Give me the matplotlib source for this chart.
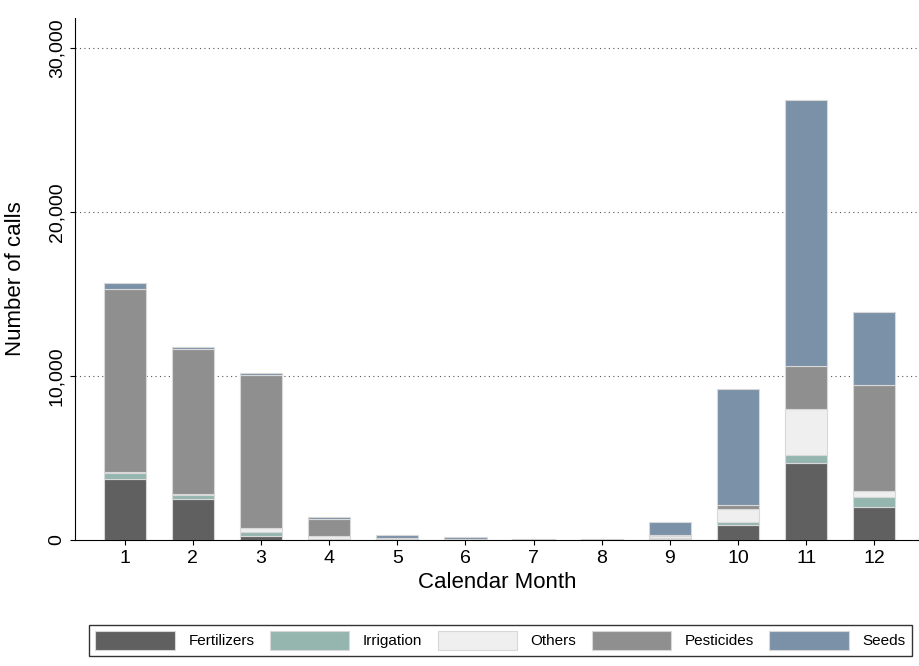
import numpy as np
import matplotlib.pyplot as plt

plt.rcParams['font.family'] = ['Liberation Sans', 'DejaVu Sans']

months = np.arange(1, 13)
categories = ['Fertilizers', 'Irrigation', 'Others', 'Pesticides', 'Seeds']
fertilizers = [3700, 2500, 260, 20, 10, 10, 5, 5, 80, 930, 4710, 2030]
irrigation = [360, 240, 250, 20, 10, 5, 5, 5, 30, 170, 470, 570]
others = [110, 50, 200, 220, 30, 20, 10, 10, 130, 770, 2790, 390]
pesticides = [11120, 8860, 9350, 1040, 50, 20, 10, 10, 50, 260, 2660, 6460]
seeds = [400, 140, 100, 80, 200, 100, 50, 50, 800, 7060, 16200, 4470]
colors = ['#606060', '#94b6ae', '#efefef', '#8f8f8f', '#7b91a8']

fig = plt.figure(figsize=(9.2, 6.66), dpi=100)
ax = fig.add_axes([75/920, 126/666, 845/920, 522/666])

bottom = np.zeros(12)
for name, vals, c in zip(categories, [fertilizers, irrigation, others, pesticides, seeds], colors):
    ax.bar(months, vals, 0.62, bottom=bottom, color=c, edgecolor='#d8d8d8', linewidth=0.8, label=name, zorder=2)
    bottom += np.array(vals)

ax.set_xlim(0.27, 12.67)
ax.set_ylim(0, 31830)
ax.set_yticks([0, 10000, 20000, 30000])
ax.set_yticklabels(['0', '10,000', '20,000', '30,000'], rotation=90, va='center', fontsize=14)
ax.set_xticks(months)
ax.tick_params(axis='x', labelsize=14)
for y in [10000, 20000, 30000]:
    ax.axhline(y, color='#555555', linestyle=(0, (1, 3)), linewidth=0.8, zorder=1)
ax.spines['top'].set_visible(False)
ax.spines['right'].set_visible(False)
ax.set_xlabel('Calendar Month', fontsize=16)
ax.set_ylabel('Number of calls', fontsize=16)
ax.yaxis.set_label_coords(-0.058, 0.5)

fig.legend(loc='lower center', bbox_to_anchor=(0.544, 0.003), ncol=5, fontsize=11, frameon=True,
           fancybox=False, edgecolor='black', handlelength=5.2, handleheight=1.6, columnspacing=1.0,
           handletextpad=0.9)
fig.savefig('out.png', dpi=100)
